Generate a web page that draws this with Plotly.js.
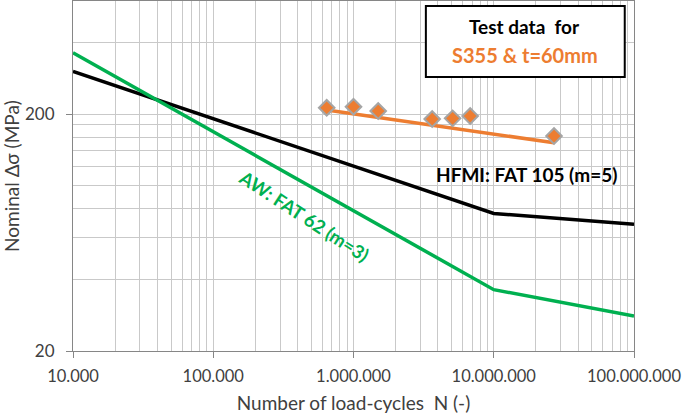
<!DOCTYPE html>
<html>
<head>
<meta charset="utf-8">
<script src="https://cdn.plot.ly/plotly-3.0.1.min.js"></script>
<style>html,body{margin:0;padding:0;background:#fff;} #chart{width:685px;height:414px;}</style>
</head>
<body>
<div id="chart"></div>
<script>
// S-N curves (N, nominal stress range)
const curveN = [10000, 10000000, 100000000];
const awFat62 = [362.6, 36.3, 28.1];
const hfmiFat105 = [302.9, 76.1, 68.5];

// Test data for S355 & t=60mm
const testN = [644000, 1000000, 1500000, 3640000, 5090000, 6790000, 26900000];
const testS = [212.6, 214.7, 205.9, 190.5, 191.8, 196.1, 161.5];

// Fit line through test data
const fitN = [644000, 26900000];
const fitS = [208, 151.3];

// Axis ticks / gridlines
const xTickVals = [10000, 100000, 1000000, 10000000, 100000000];
const xTickText = ["10.000", "100.000", "1.000.000", "10.000.000", "100.000.000"];
const yGridVals = [20, 40, 60, 80, 100, 120, 140, 160, 180, 200, 400, 600];
const yGridText = ["20", "", "", "", "", "", "", "", "", "200", "", ""];
const yTickMarks = [20, 200];

const FONT = "Lato, 'Open Sans', sans-serif";
const GRID = "#c9c9c9";
const AXIS = "#868686";
const TXT = "#404040";

const traces = [
  {x: curveN, y: hfmiFat105, mode: "lines", line: {color: "#000000", width: 3.5}, hoverinfo: "skip"},
  {x: curveN, y: awFat62, mode: "lines", line: {color: "#00b050", width: 3.5}, hoverinfo: "skip"},
  {x: fitN, y: fitS, mode: "lines", line: {color: "#ed7d31", width: 3.5}, hoverinfo: "skip"},
  {x: testN, y: testS, mode: "markers", marker: {symbol: "diamond", size: 12, color: "#ed7d31", line: {color: "#a5a5a5", width: 2}}, hoverinfo: "skip"}
];

const layout = {
  width: 685, height: 414,
  margin: {l: 73, r: 51, t: 1, b: 63},
  paper_bgcolor: "#ffffff", plot_bgcolor: "#ffffff",
  showlegend: false,
  font: {family: FONT, color: TXT, size: 16},
  xaxis: {
    type: "log", range: [4, 8],
    tickmode: "array", tickvals: xTickVals, ticktext: xTickText,
    ticks: "outside", ticklen: 6, tickcolor: AXIS, tickwidth: 1,
    ticklabelstandoff: 4,
    showgrid: true, gridcolor: GRID, gridwidth: 1,
    minor: {dtick: "D1", showgrid: true, gridcolor: GRID, gridwidth: 1, ticklen: 0},
    showline: true, linecolor: AXIS, linewidth: 1, mirror: true,
    zeroline: false,
    tickfont: {family: FONT, size: 16.5, color: TXT},
    title: {text: "Number of load-cycles  N (-)", font: {family: FONT, size: 19, color: TXT}, standoff: 12}
  },
  yaxis: {
    type: "log", range: [Math.log10(20), Math.log10(600)],
    tickmode: "array", tickvals: yGridVals, ticktext: yGridText,
    ticks: "", ticklabelstandoff: 14,
    showgrid: true, gridcolor: GRID, gridwidth: 1,
    minor: {tickmode: "array", tickvals: yTickMarks, ticks: "outside", ticklen: 6, tickcolor: AXIS, tickwidth: 1, showgrid: false},
    showline: true, linecolor: AXIS, linewidth: 1, mirror: true,
    zeroline: false,
    tickfont: {family: FONT, size: 17, color: TXT},
    title: {text: "Nominal Δσ (MPa)", font: {family: FONT, size: 19, color: TXT}, standoff: 8}
  },
  shapes: [
    {type: "rect", xref: "paper", yref: "paper", x0: 0.629, x1: 0.9835, y0: 0.783, y1: 0.986,
     fillcolor: "#ffffff", line: {color: "#000000", width: 2}, layer: "above"}
  ],
  annotations: [
    {xref: "paper", yref: "paper", x: 0.8055, y: 0.926, xanchor: "center", yanchor: "middle",
     text: "<b>Test data  for</b>", showarrow: false,
     font: {family: FONT, size: 19, color: "#000000"}},
    {xref: "paper", yref: "paper", x: 0.8055, y: 0.846, xanchor: "center", yanchor: "middle",
     text: "<b>S355 & t=60mm</b>", showarrow: false,
     font: {family: FONT, size: 20, color: "#ed7d31"}},
    {xref: "paper", yref: "paper", x: 0.809, y: 0.503, xanchor: "center", yanchor: "middle",
     text: "<b>HFMI: FAT 105 (m=5)</b>", showarrow: false,
     font: {family: FONT, size: 19, color: "#000000"}},
    {xref: "paper", yref: "paper", x: 0.412, y: 0.386, xanchor: "center", yanchor: "middle",
     text: "<b>AW: FAT 62 (m=3)</b>", showarrow: false,
     textangle: 33, font: {family: FONT, size: 18.5, color: "#00b050"}}
  ]
};

Plotly.newPlot("chart", traces, layout, {displayModeBar: false, staticPlot: true});
</script>
</body>
</html>
